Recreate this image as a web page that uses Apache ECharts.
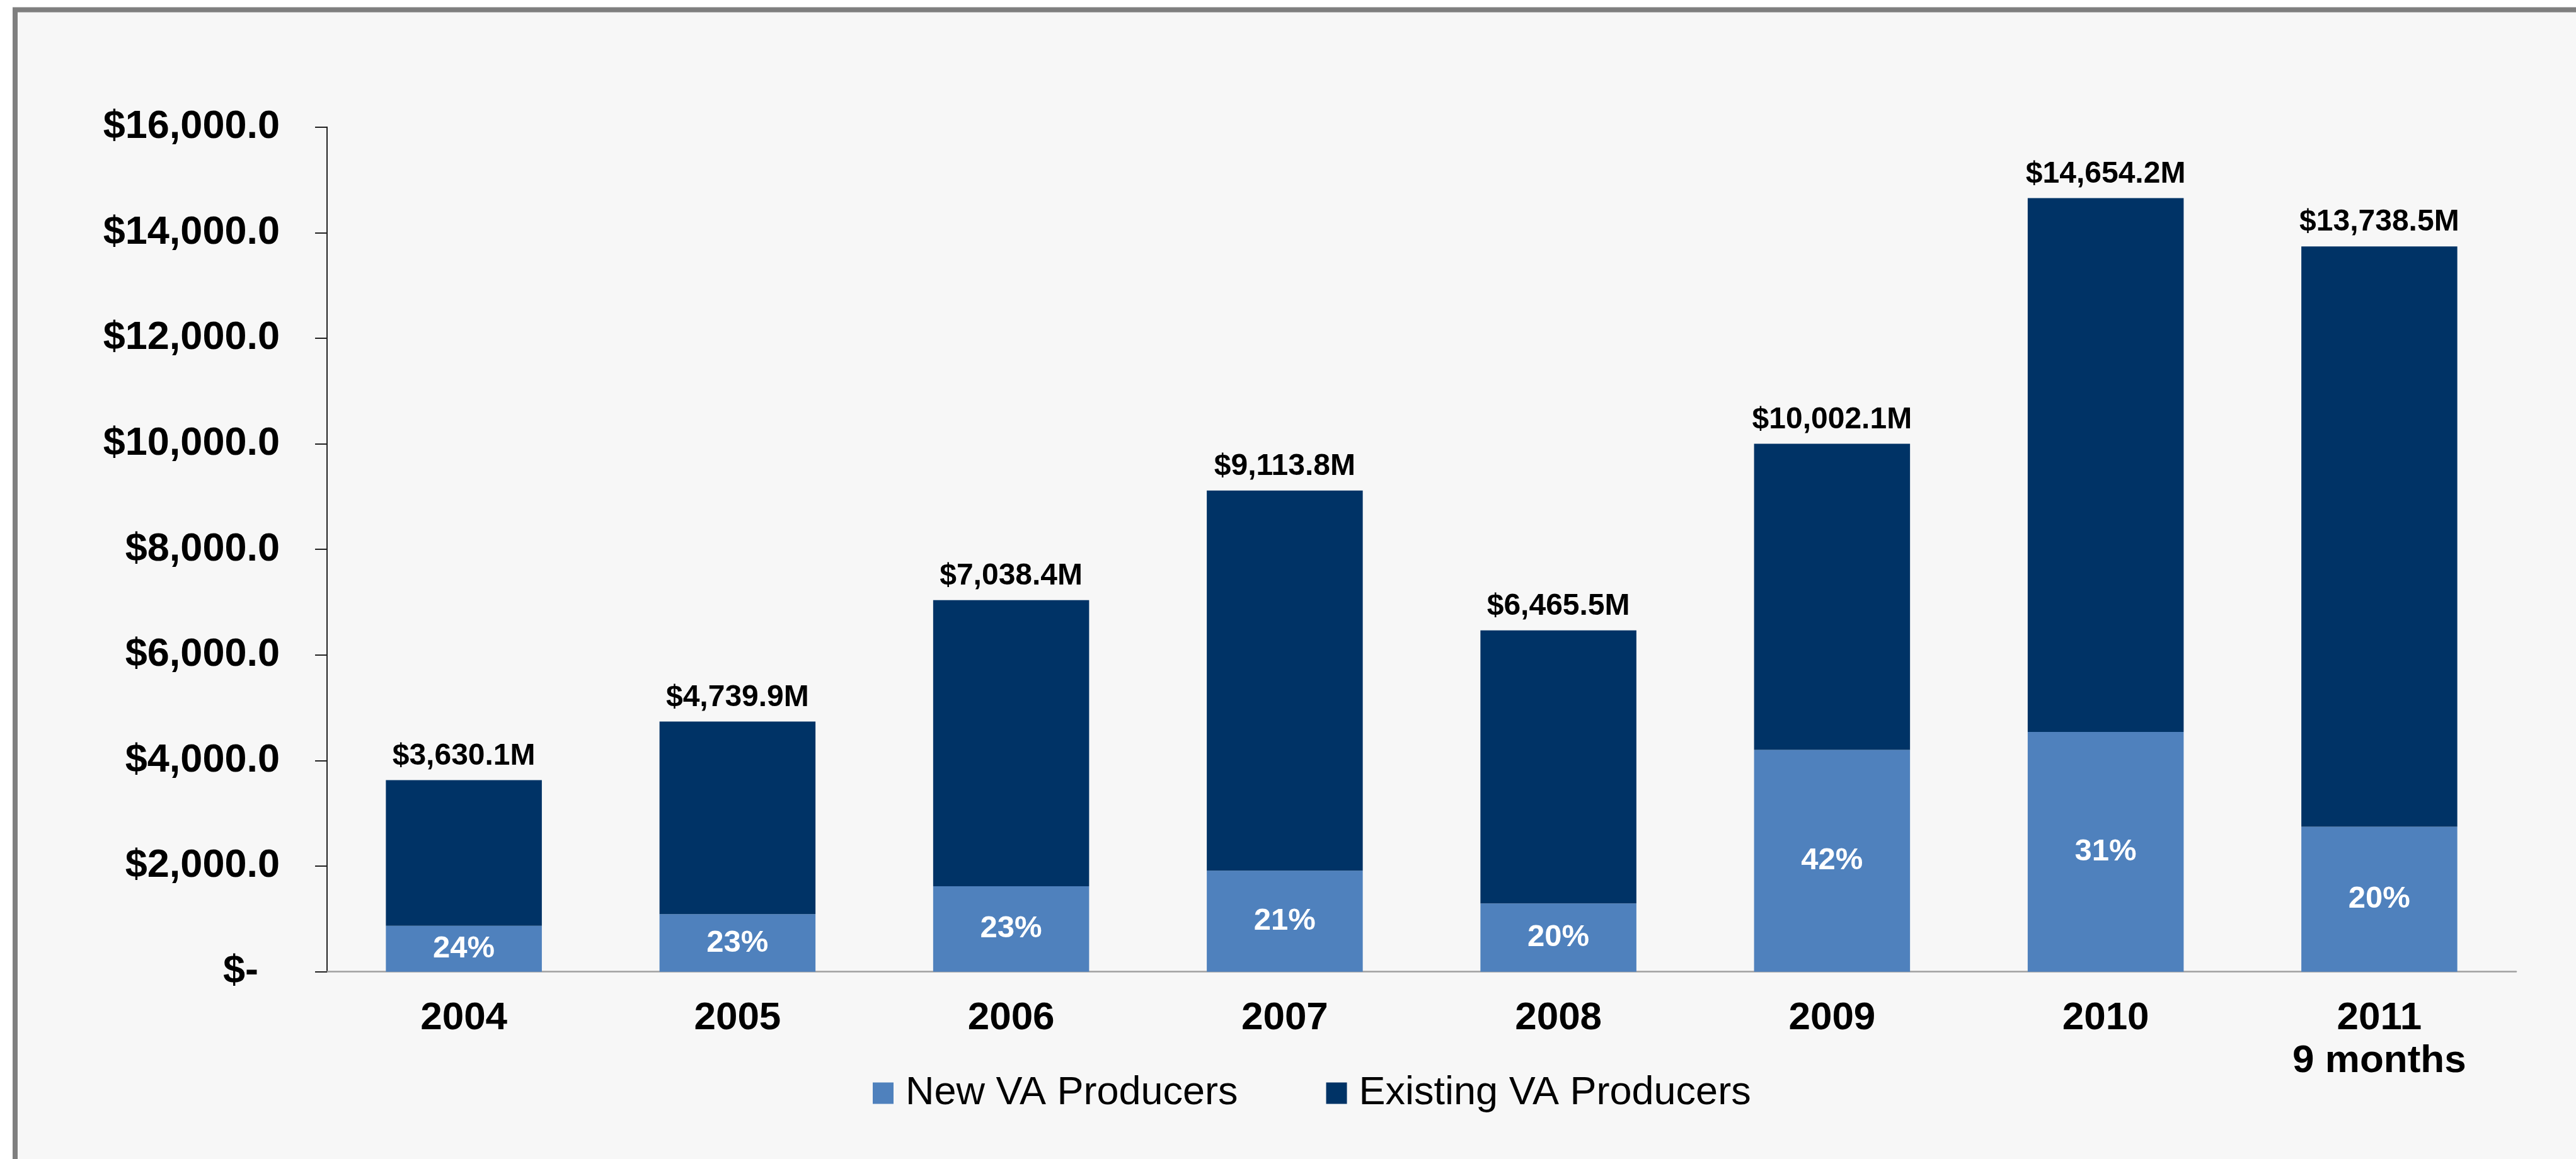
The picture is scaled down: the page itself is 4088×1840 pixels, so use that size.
<!DOCTYPE html>
<html>
<head>
<meta charset="utf-8">
<title>VA Sales: New vs Existing Producers</title>
<script src="https://cdn.jsdelivr.net/npm/echarts@6/dist/echarts.min.js"></script>
<style>
  html, body { margin: 0; padding: 0; background: #ffffff; }
  #chart { width: 4088px; height: 1840px; }
</style>
</head>
<body>
<div id="chart"></div>
<script>
// Annual variable annuity sales, split by new vs existing producers
const categories = ['2004', '2005', '2006', '2007', '2008', '2009', '2010', '2011\n9 months'];
const totals = [3630.1, 4739.9, 7038.4, 9113.8, 6465.5, 10002.1, 14654.2, 13738.5];   // $M
const newShares = [24, 23, 23, 21, 20, 42, 31, 20];                                      // % of total
const seriesNames = ['New VA Producers', 'Existing VA Producers'];
const seriesColors = ['#4F81BD', '#003366'];
const yMin = 0, yMax = 16000, yStep = 2000;

// Segment values derived from each year's total and the new-producer share
const newValues = totals.map((t, i) => +(t * newShares[i] / 100).toFixed(1));
const existingValues = totals.map((t, i) => +(t - newValues[i]).toFixed(1));

const FONT = "'Liberation Sans', Arial, Helvetica, sans-serif";
const money = (v) => v.toLocaleString('en-US', { minimumFractionDigits: 1, maximumFractionDigits: 1 });

const chart = echarts.init(document.getElementById('chart'), null, { renderer: 'canvas' });

chart.setOption({
  backgroundColor: '#ffffff',
  animation: false,
  textStyle: { fontFamily: FONT },
  graphic: [{
    type: 'rect',
    z: -10,
    silent: true,
    shape: { x: 24, y: 15.5, width: 4300, height: 2100 },
    style: { fill: '#F7F7F7', stroke: '#7F7F7F', lineWidth: 8 }
  }],
  grid: { left: 519, right: 95, top: 201.7, bottom: 297.3, containLabel: false },
  legend: {
    data: seriesNames,
    left: 1380,
    top: 1699,
    itemWidth: 33,
    itemHeight: 34,
    itemGap: 140,
    icon: 'rect',
    textStyle: { fontFamily: FONT, fontSize: 63, color: '#000', padding: [0, 0, 0, 14], lineHeight: 62 }
  },
  xAxis: {
    type: 'category',
    data: categories,
    axisLine: { show: true, lineStyle: { color: '#A0A0A0', width: 2.5 } },
    axisTick: { show: false },
    axisLabel: {
      interval: 0,
      margin: 40,
      color: '#000',
      fontFamily: FONT,
      fontWeight: 'bold',
      fontSize: 62,
      lineHeight: 68
    },
    splitLine: { show: false }
  },
  yAxis: {
    type: 'value',
    min: yMin,
    max: yMax,
    interval: yStep,
    axisLine: { show: true, lineStyle: { color: '#222', width: 2 } },
    axisTick: { show: true, length: 19, lineStyle: { color: '#222', width: 2 } },
    splitLine: { show: false },
    axisLabel: {
      margin: 75,
      color: '#000',
      fontFamily: FONT,
      fontWeight: 'bold',
      fontSize: 63,
      formatter: (v) => v === 0 ? '{z|$-}' : '$' + money(v),
      rich: {
        z: { fontFamily: FONT, fontWeight: 'bold', fontSize: 63, color: '#000', padding: [0, 34, 0, 0] }
      }
    }
  },
  series: [
    {
      name: seriesNames[0],
      type: 'bar',
      stack: 'sales',
      barWidth: '57%',
      data: newValues,
      itemStyle: { color: seriesColors[0] },
      label: {
        show: true,
        position: 'inside',
        color: '#ffffff',
        fontFamily: FONT,
        fontWeight: 'bold',
        fontSize: 49,
        formatter: (p) => newShares[p.dataIndex] + '%'
      }
    },
    {
      name: seriesNames[1],
      type: 'bar',
      stack: 'sales',
      barWidth: '57%',
      data: existingValues,
      itemStyle: { color: seriesColors[1] },
      label: {
        show: true,
        position: 'top',
        distance: 14,
        color: '#000',
        fontFamily: FONT,
        fontWeight: 'bold',
        fontSize: 48,
        formatter: (p) => '$' + money(totals[p.dataIndex]) + 'M'
      }
    }
  ]
});
</script>
</body>
</html>
